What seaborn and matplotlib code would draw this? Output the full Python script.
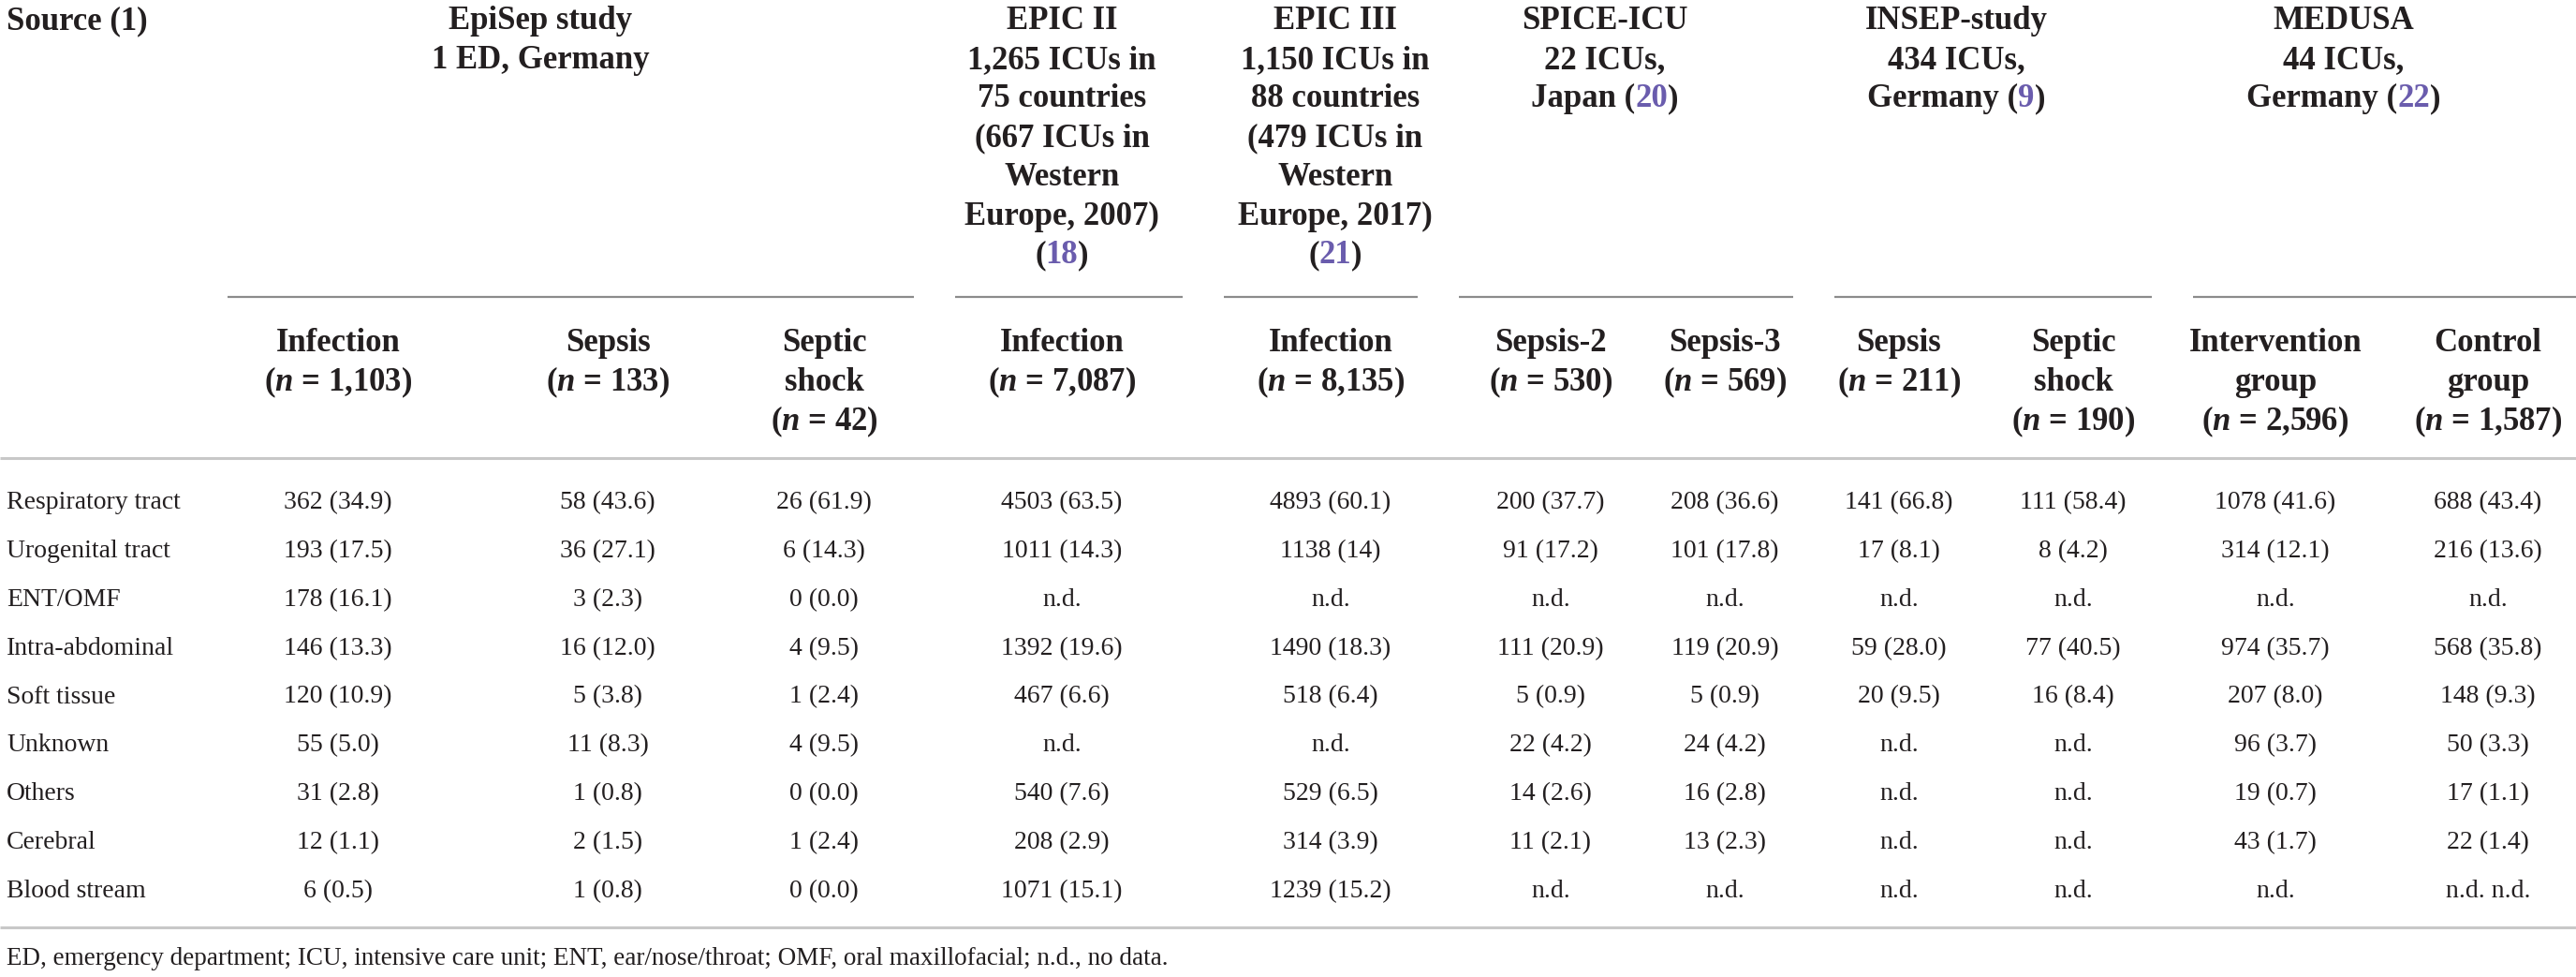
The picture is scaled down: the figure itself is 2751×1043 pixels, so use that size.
import re
import matplotlib
matplotlib.use("Agg")
import matplotlib.pyplot as plt
import pandas as pd
import seaborn as sns

# infection site rows
sites = ["Respiratory tract", "Urogenital tract", "ENT/OMF", "Intra-abdominal",
         "Soft tissue", "Unknown", "Others", "Cerebral", "Blood stream"]

# n (%) per study column, as printed
episep_infection = ["362 (34.9)", "193 (17.5)", "178 (16.1)", "146 (13.3)", "120 (10.9)",
                    "55 (5.0)", "31 (2.8)", "12 (1.1)", "6 (0.5)"]
episep_sepsis = ["58 (43.6)", "36 (27.1)", "3 (2.3)", "16 (12.0)", "5 (3.8)",
                 "11 (8.3)", "1 (0.8)", "2 (1.5)", "1 (0.8)"]
episep_shock = ["26 (61.9)", "6 (14.3)", "0 (0.0)", "4 (9.5)", "1 (2.4)",
                "4 (9.5)", "0 (0.0)", "1 (2.4)", "0 (0.0)"]
epic2_infection = ["4503 (63.5)", "1011 (14.3)", "n.d.", "1392 (19.6)", "467 (6.6)",
                   "n.d.", "540 (7.6)", "208 (2.9)", "1071 (15.1)"]
epic3_infection = ["4893 (60.1)", "1138 (14)", "n.d.", "1490 (18.3)", "518 (6.4)",
                   "n.d.", "529 (6.5)", "314 (3.9)", "1239 (15.2)"]
spice_sepsis2 = ["200 (37.7)", "91 (17.2)", "n.d.", "111 (20.9)", "5 (0.9)",
                 "22 (4.2)", "14 (2.6)", "11 (2.1)", "n.d."]
spice_sepsis3 = ["208 (36.6)", "101 (17.8)", "n.d.", "119 (20.9)", "5 (0.9)",
                 "24 (4.2)", "16 (2.8)", "13 (2.3)", "n.d."]
insep_sepsis = ["141 (66.8)", "17 (8.1)", "n.d.", "59 (28.0)", "20 (9.5)",
                "n.d.", "n.d.", "n.d.", "n.d."]
insep_shock = ["111 (58.4)", "8 (4.2)", "n.d.", "77 (40.5)", "16 (8.4)",
               "n.d.", "n.d.", "n.d.", "n.d."]
medusa_intervention = ["1078 (41.6)", "314 (12.1)", "n.d.", "974 (35.7)", "207 (8.0)",
                       "96 (3.7)", "19 (0.7)", "43 (1.7)", "n.d."]
medusa_control = ["688 (43.4)", "216 (13.6)", "n.d.", "568 (35.8)", "148 (9.3)",
                  "50 (3.3)", "17 (1.1)", "22 (1.4)", "n.d. n.d."]

# study headers, {nn} = reference number
source_label = "Source (1)"
study_headers = [
    ["EpiSep study", "1 ED, Germany"],
    ["EPIC II", "1,265 ICUs in", "75 countries", "(667 ICUs in", "Western",
     "Europe, 2007)", "({18})"],
    ["EPIC III", "1,150 ICUs in", "88 countries", "(479 ICUs in", "Western",
     "Europe, 2017)", "({21})"],
    ["SPICE-ICU", "22 ICUs,", "Japan ({20})"],
    ["INSEP-study", "434 ICUs,", "Germany ({9})"],
    ["MEDUSA", "44 ICUs,", "Germany ({22})"],
]

n = r"$\mathit{n}$"
sub_headers = [
    ["Infection", f"({n} = 1,103)"],
    ["Sepsis", f"({n} = 133)"],
    ["Septic", "shock", f"({n} = 42)"],
    ["Infection", f"({n} = 7,087)"],
    ["Infection", f"({n} = 8,135)"],
    ["Sepsis-2", f"({n} = 530)"],
    ["Sepsis-3", f"({n} = 569)"],
    ["Sepsis", f"({n} = 211)"],
    ["Septic", "shock", f"({n} = 190)"],
    ["Intervention", "group", f"({n} = 2,596)"],
    ["Control", "group", f"({n} = 1,587)"],
]

footnote = ("ED, emergency department; ICU, intensive care unit; ENT, ear/nose/throat; "
            "OMF, oral maxillofacial; n.d., no data.")

table = pd.DataFrame({
    "episep_infection": episep_infection, "episep_sepsis": episep_sepsis,
    "episep_shock": episep_shock, "epic2": epic2_infection, "epic3": epic3_infection,
    "sepsis2": spice_sepsis2, "sepsis3": spice_sepsis3, "insep_sepsis": insep_sepsis,
    "insep_shock": insep_shock, "intervention": medusa_intervention,
    "control": medusa_control,
}, index=sites)

# layout (pixels)
W, H = 2751, 1043
label_x = 7
col_x = [361, 649, 880, 1134, 1421, 1656, 1842, 2028, 2214, 2430, 2657]
study_x = [577, 1134, 1426, 1714, 2089, 2503]
rule_bounds = [221, 998, 1285, 1536, 1937, 2320, 2795]
ink = "#231f20"
cite = "#6a5cad"

sns.set_theme(style="white")
plt.rcParams["font.family"] = ["Liberation Serif", "DejaVu Serif"]
plt.rcParams["mathtext.fontset"] = "custom"
plt.rcParams["mathtext.it"] = "Liberation Serif:italic:bold"
plt.rcParams["mathtext.rm"] = "Liberation Serif:bold"

fig = plt.figure(figsize=(W / 100, H / 100), dpi=100)
ax = fig.add_axes([0, 0, 1, 1])
ax.set_xlim(0, W)
ax.set_ylim(H, 0)
ax.axis("off")
renderer = fig.canvas.get_renderer()


def rich(x, y, text, size, weight):
    pieces = [p for p in re.split(r"(\{\d+\})", text) if p]
    parts = [(p[1:-1], cite) if p.startswith("{") else (p, ink) for p in pieces]
    objs = [ax.text(0, y, s, color=c, ha="left", va="baseline",
                    fontsize=size, fontweight=weight) for s, c in parts]
    widths = [o.get_window_extent(renderer).width for o in objs]
    left = x - sum(widths) / 2
    for o, w in zip(objs, widths):
        o.set_x(left)
        left += w


head_size = 25
body_size = 20

ax.text(label_x, 31, source_label, ha="left", va="baseline",
        fontsize=head_size, fontweight="bold", color=ink)
for xc, lines in zip(study_x, study_headers):
    for k, line in enumerate(lines):
        rich(xc, 31 + 41.7 * k, line, head_size, "bold")

for a, b in zip(rule_bounds[:-1], rule_bounds[1:]):
    ax.hlines(317, a + 22, b - 22, color="#8c8c8c", lw=1.6)

for xc, lines in zip(col_x, sub_headers):
    for k, line in enumerate(lines):
        ax.text(xc, 375 + 42 * k, line, ha="center", va="baseline",
                fontsize=head_size, fontweight="bold", color=ink)

ax.hlines(489, 0, W, color="#c8c8c8", lw=2.2)

for i, site in enumerate(table.index):
    yb = 543 + 51.9 * i
    ax.text(label_x, yb, site, ha="left", va="baseline", fontsize=body_size, color=ink)
    for xc, col in zip(col_x, table.columns):
        ax.text(xc, yb, table.loc[site, col], ha="center", va="baseline",
                fontsize=body_size, color=ink)

ax.hlines(990, 0, W, color="#c8c8c8", lw=2.2)
ax.text(label_x, 1030, footnote, ha="left", va="baseline", fontsize=19.5, color=ink)

fig.savefig("out.png", dpi=100)
